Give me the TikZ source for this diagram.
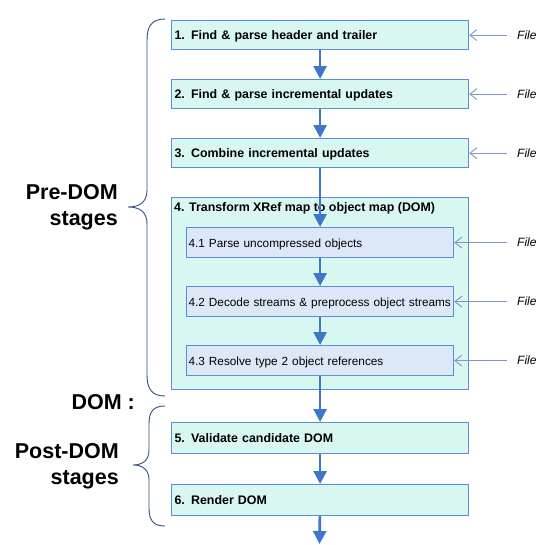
\documentclass[tikz,border=0pt]{standalone}
\usepackage{fontspec}
\setmainfont{Liberation Sans}
\usetikzlibrary{arrows.meta}

\definecolor{boxfill}{HTML}{D9F7F1}
\definecolor{boxline}{HTML}{5B8DD3}
\definecolor{subfill}{HTML}{DCE8F8}
\definecolor{flowblue}{HTML}{3D78C6}
\definecolor{feedgray}{HTML}{7F97BE}
\definecolor{bracecol}{HTML}{2E4E80}

\tikzset{
  stagebox/.style={draw=boxline, fill=boxfill, line width=1.2pt, anchor=north west,
    minimum width=297pt, minimum height=29pt, text width=291pt, inner sep=3pt,
    text height=9pt, text depth=0pt, align=left,
    font=\bfseries\fontsize{12.4}{14}\selectfont},
  subbox/.style={draw=boxline, fill=subfill, line width=1.2pt, anchor=north west,
    minimum width=267pt, minimum height=30pt, text width=263pt, inner sep=2pt,
    text height=9pt, text depth=0pt, align=left,
    font=\fontsize{11.8}{14}\selectfont},
  stagelbl/.style={align=right, anchor=east, inner sep=0pt,
    font=\bfseries\fontsize{21.5}{26}\selectfont},
  filelbl/.style={anchor=west, inner sep=0pt, font=\itshape\fontsize{12}{14}\selectfont},
  flow/.style={draw=flowblue, line width=2.7pt, -{Triangle[width=13pt,length=13pt]}},
  feed/.style={draw=feedgray, line width=0.9pt, -{Straight Barb[length=7pt,width=11pt]}},
  curly/.style={draw=bracecol, line width=0.9pt}
}

\begin{document}
\begin{tikzpicture}[x=1pt, y=-1pt]
\useasboundingbox (0,0) rectangle (551,544);

\node[stagebox] (b1) at (171,20) {1. Find \& parse header and trailer};
\node[stagebox] (b2) at (171,79) {2. Find \& parse incremental updates};
\node[stagebox] (b3) at (171,138) {3. Combine incremental updates};
\node[stagebox, minimum height=192pt] (b4) at (171,197) {};
\node[anchor=base west, inner sep=0pt, font=\bfseries\fontsize{12.4}{14}\selectfont] (t4)
  at ([xshift=3pt,yshift=-14pt]b4.north west) {4. Transform XRef map to object map (DOM)};
\node[subbox] (b41) at (186,227) {4.1 Parse uncompressed objects};
\node[subbox] (b42) at (186,286) {4.2 Decode streams \& preprocess object streams};
\node[subbox] (b43) at (186,345) {4.3 Resolve type 2 object references};
\node[stagebox, minimum height=31pt] (b5) at (171,422) {5. Validate candidate DOM};
\node[stagebox, minimum height=31pt] (b6) at (171,484) {6. Render DOM};
\coordinate (out) at (319.5,544);

% main flow
\draw[flow] (b1) -- (b2);
\draw[flow] (b2) -- (b3);
\draw[flow] (b3) -- (b41);
\draw[flow] (b41) -- (b42);
\draw[flow] (b42) -- (b43);
\draw[flow] (b43) -- (b5);
\draw[flow] (b5) -- (b6);
\draw[flow] (b6) -- (out);

% file inputs
\foreach \b in {b1,b2,b3,b41,b42,b43}
{   \node[filelbl] (file\b) at (\b.east -| 517,0) {File};
    \draw[feed] ([xshift=-10pt]file\b.west) -- (\b.east);
}

% stage labels
\node[stagelbl] (pre) at (118,207) {Pre-DOM\\stages};
\node[stagelbl, anchor=base east] (dom) at (135,409) {DOM :};
\node[stagelbl] (post) at (119,466) {Post-DOM\\stages};

\draw[curly] (165,19) .. controls (152,19) and (147,26) .. (147,40) -- (147,190)
  .. controls (147,202) and (140,207) .. (128,207)
  .. controls (140,207) and (147,212) .. (147,224) -- (147,375)
  .. controls (147,389) and (152,396) .. (165,396);
\draw[curly] (165,406) .. controls (153,406) and (149,412) .. (149,424) -- (149,450)
  .. controls (149,460) and (143,465) .. (133,465)
  .. controls (143,465) and (149,470) .. (149,480) -- (149,508)
  .. controls (149,520) and (153,526) .. (165,526);
\end{tikzpicture}
\end{document}
